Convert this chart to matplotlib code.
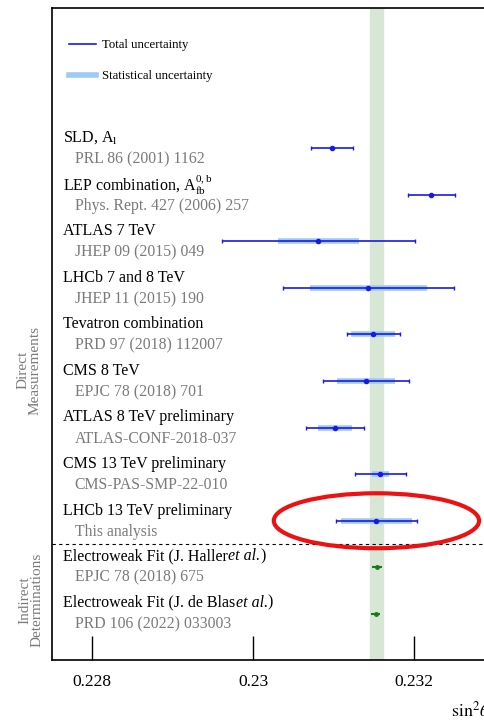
import matplotlib
matplotlib.use("Agg")
import matplotlib.pyplot as plt
from matplotlib.lines import Line2D
from matplotlib.patches import Ellipse

plt.rcParams["font.family"] = ["Liberation Serif", "DejaVu Serif"]
plt.rcParams["mathtext.fontset"] = "stix"

titles = ["SLD, $\\mathregular{A_l}$", "LEP combination, $\\mathregular{A^{0,b}_{fb}}$",
          "ATLAS 7 TeV", "LHCb 7 and 8 TeV", "Tevatron combination", "CMS 8 TeV",
          "ATLAS 8 TeV preliminary", "CMS 13 TeV preliminary", "LHCb 13 TeV preliminary"]
refs = ["PRL 86 (2001) 1162", "Phys. Rept. 427 (2006) 257", "JHEP 09 (2015) 049",
        "JHEP 11 (2015) 190", "PRD 97 (2018) 112007", "EPJC 78 (2018) 701",
        "ATLAS-CONF-2018-037", "CMS-PAS-SMP-22-010", "This analysis"]
values = [0.23098, 0.23221, 0.23081, 0.23143, 0.23149, 0.23140, 0.23102, 0.23158, 0.23153]
tot_err = [0.00026, 0.00029, 0.00120, 0.00106, 0.00033, 0.00053, 0.00036, 0.00032, 0.00050]
stat_err = [0.0, 0.0, 0.00050, 0.00073, 0.00027, 0.00036, 0.00021, 0.00011, 0.00044]

ew_names = ["Electroweak Fit (J. Haller", "Electroweak Fit (J. de Blas"]
ew_refs = ["EPJC 78 (2018) 675", "PRD 106 (2022) 033003"]
ew_values = [0.23154, 0.23152]
ew_err = [0.00006, 0.00006]

band_center = 0.23153
band_half = 0.00008

blue = "#1a1ae6"
lightblue = "#9ccbf5"
green = "#1a7a1a"
gray = "#7a7a7a"

title_x = 0.22764
ref_x = 0.22778
title_fs = 11.5
ref_fs = 11.3

fig = plt.figure(figsize=(4.84, 7.26), dpi=100)
ax = fig.add_axes([52 / 484, 1 - 660 / 726, 1 - 52 / 484 + 0.05, (660 - 8) / 726])

ax.axvspan(band_center - band_half, band_center + band_half, color="#d8e6d6", zorder=0)

n = len(values)
for i in range(n):
    v = values[i]
    if stat_err[i] > 0:
        ax.plot([v - stat_err[i], v + stat_err[i]], [i, i], color=lightblue, lw=4, zorder=2,
                solid_capstyle="butt")
    ax.errorbar(v, i, xerr=tot_err[i], fmt="o", color=blue, ms=3, lw=1.2,
                capsize=1.5, capthick=1, zorder=3)
    ax.text(title_x, i - 0.22, titles[i], fontsize=title_fs, color="black", va="center", ha="left")
    ax.text(ref_x, i + 0.24, refs[i], fontsize=ref_fs, color=gray, va="center", ha="left")

for j in range(len(ew_values)):
    y = n + j
    ax.errorbar(ew_values[j], y, xerr=ew_err[j], fmt="o", color=green, ms=2.5, lw=1.5,
                capsize=0, zorder=3)
    t1 = ax.text(title_x, y - 0.24, ew_names[j], fontsize=title_fs, color="black",
                 va="center", ha="left")
    t2 = ax.annotate("et al.", xy=(1, 0), xycoords=t1, fontsize=title_fs, style="italic",
                     va="bottom", ha="left")
    ax.annotate(")", xy=(1, 0), xycoords=t2, fontsize=title_fs, va="bottom", ha="left")
    ax.text(ref_x, y + 0.22, ew_refs[j], fontsize=ref_fs, color=gray, va="center", ha="left")

ax.axhline(n - 0.5, color="black", lw=0.8, ls=(0, (3, 3)))

# highlight of the new result
hl = Ellipse((values[-1], n - 1), 0.00255, 1.18, fill=False, edgecolor="#ee1111", lw=3, zorder=4)
ax.add_patch(hl)

ax.set_xlim(0.2275, 0.2275 + (484 - 52) / 80500 + 0.0003)
ax.set_ylim(n + 1.99, -3.01)
ax.set_xticks([0.228, 0.23, 0.232])
ax.set_xticklabels(["0.228", "0.23", "0.232"], fontsize=12.5)
ax.tick_params(axis="x", direction="in", length=17, width=1, pad=10)
ax.set_yticks([])
for s in ["left", "bottom", "top"]:
    ax.spines[s].set_linewidth(1.2)
ax.spines["right"].set_visible(False)

handles = [Line2D([], [], color=blue, lw=1.2),
           Line2D([], [], color=lightblue, lw=4)]
ax.legend(handles, ["Total uncertainty", "Statistical uncertainty"], loc="upper left",
          bbox_to_anchor=(0.013, 0.97), frameon=False, fontsize=9.2, handlelength=2.1,
          labelspacing=1.5, handletextpad=0.45)

fig.text(29 / 484, 1 - 370 / 726, "Direct\nMeasurements", rotation=90, fontsize=11,
         color=gray, ha="center", va="center", linespacing=0.9)
fig.text(31 / 484, 1 - 600 / 726, "Indirect\nDeterminations", rotation=90, fontsize=11,
         color=gray, ha="center", va="center", linespacing=0.9)
fig.text(451 / 484, 1 - 718 / 726, r"$\mathrm{sin}^{2}\theta^{l}_{\rm eff}$", fontsize=13,
         color="black", ha="left", va="baseline")

fig.savefig("out.png", dpi=100)
